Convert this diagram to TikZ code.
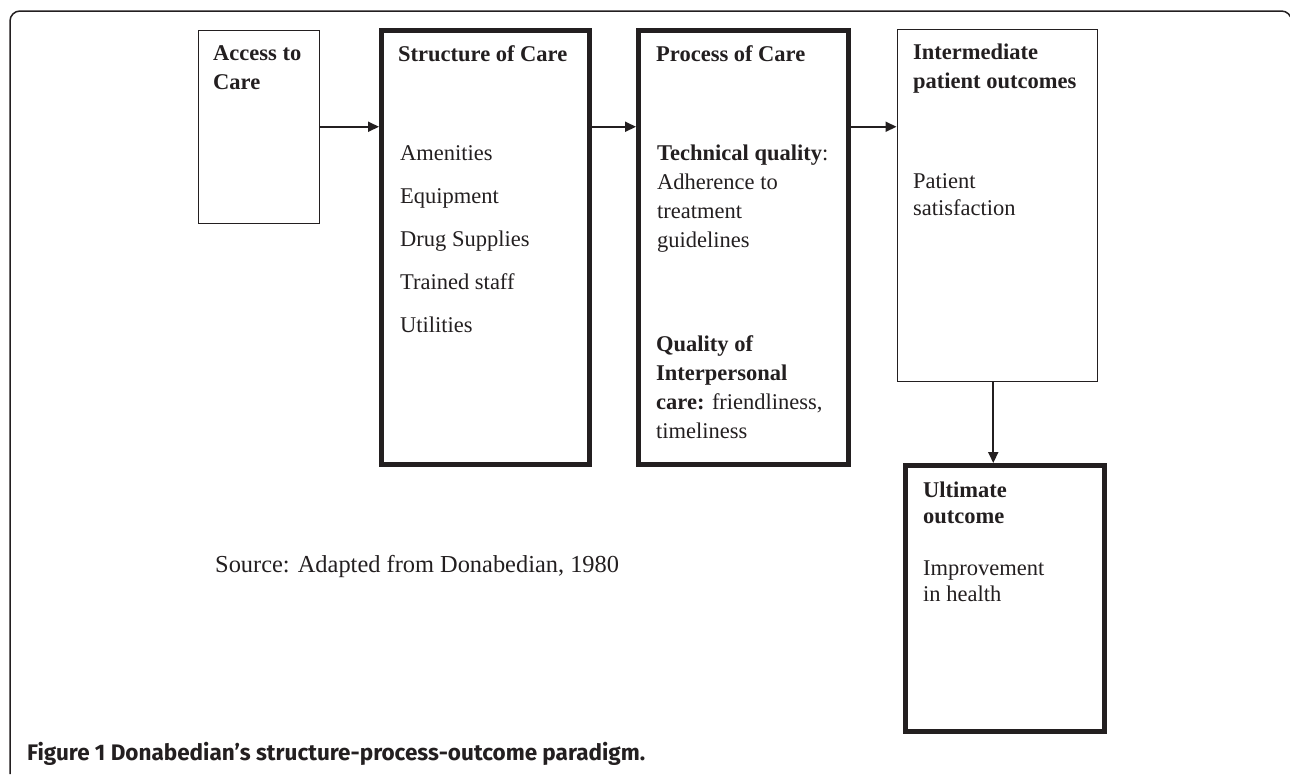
\documentclass[tikz,border=0pt]{standalone}
\usepackage{fontspec}
\setmainfont{Liberation Serif}
\newfontfamily\capfont{Fira Sans}
\usetikzlibrary{arrows.meta}
\definecolor{ink}{HTML}{231F20}

\begin{document}
\begin{tikzpicture}[x=1pt,y=-1pt,>/.tip={Triangle[length=11pt,width=10pt]},
	thinbox/.style={draw=ink,line width=1.5pt,inner sep=0pt,anchor=north west},
	thickbox/.style={draw=ink,line width=5pt,inner sep=0pt,anchor=north west},
	txt/.style={text=ink,inner sep=0pt,align=left,anchor=north west,font=\fontsize{22.5}{29}\selectfont},
	link/.style={draw=ink,line width=2pt}]
	\useasboundingbox (0,0) rectangle (1290,774);
	% frame of the figure
	\draw[ink,line width=1.5pt,rounded corners=10pt] (10,774) -- (10,11) -- (1291.5,11) -- (1291.5,774);
	% boxes
	\draw (197.5,29.5) node(acc) [thinbox,minimum width=121pt,minimum height=193pt] {};
	\draw (379,28) node(str) [thickbox,minimum width=208pt,minimum height=434pt] {};
	\draw (636,28) node(prc) [thickbox,minimum width=210pt,minimum height=434pt] {};
	\draw (896.5,28.5) node(imd) [thinbox,minimum width=200pt,minimum height=352pt] {};
	\draw (903,463) node(ult) [thickbox,minimum width=199pt,minimum height=266pt] {};
	% texts
	\node (acctxt) [txt] at (213,45) {\textbf{Access to}\\\textbf{Care}};
	\node (strtxt) [txt] at (398,45) {\textbf{Structure of Care}};
	\foreach \lbl [count=\i] in {Amenities,Equipment,Drug Supplies,Trained staff,Utilities}
		\node (itm\i) [txt,anchor=base west] at (400,{160+43*(\i-1)}) {\lbl};
	\node (prctxt) [txt] at (656,45) {\textbf{Process of Care}};
	\node (tech) [txt] at (657,145) {\textbf{Technical quality}:\\Adherence to\\treatment\\guidelines};
	\node (qual) [txt] at (656,335) {\textbf{Quality of}\\\textbf{Interpersonal}\\\textbf{care:} friendliness,\\timeliness};
	\node (imdtxt) [txt] at (913,44) {\textbf{Intermediate}\\\textbf{patient outcomes}};
	\node (sat) [txt,font=\fontsize{22.5}{27}\selectfont] at (913,173) {Patient\\satisfaction};
	\node (ulttxt) [txt,font=\fontsize{22.5}{26}\selectfont] at (923,482) {\textbf{Ultimate}\\\textbf{outcome}};
	\node (impr) [txt,font=\fontsize{22.5}{26}\selectfont] at (923,561) {Improvement\\in health};
	\node (src) [txt,anchor=base west,font=\fontsize{24.4}{29}\selectfont] at (215,572) {Source: Adapted from Donabedian, 1980};
	\node (cap) [txt,anchor=base west,font=\capfont\bfseries\fontsize{22.5}{26}\selectfont] at (27,760) {Figure 1 Donabedian’s structure-process-outcome paradigm.};
	% arrows
	\draw[->,link] (acc.east) -- (acc.east -| str.west);
	\draw[->,link] (str.east |- acc.east) -- (prc.west |- acc.east);
	\draw[->,link] (prc.east |- acc.east) -- (imd.west |- acc.east);
	\draw[->,link] ([xshift=-4pt]imd.south) -- ([xshift=-4pt]imd.south |- ult.north);
\end{tikzpicture}
\end{document}
